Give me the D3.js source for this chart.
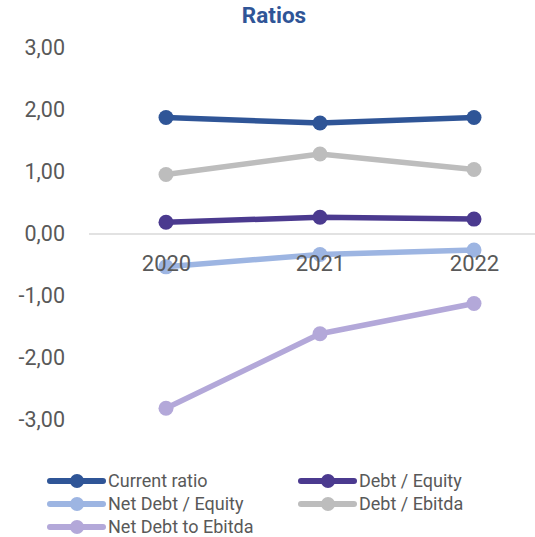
<!DOCTYPE html>
<html lang="it">
<head>
    <meta charset="UTF-8">
    <title>Ratios</title>
    <style>
        body {
            margin: 0;
            background: #fff;
            font-family: Roboto, "Noto Sans", Arial, sans-serif;
        }
        svg { display: block; }
        .axis text { fill: #595959; font-family: Roboto, sans-serif; }
        .legend text { fill: #595959; font-size: 18px; }
    </style>
</head>
<body>
    <div id="chart"></div>

    <script src="https://d3js.org/d3.v7.min.js"></script>
    <script>
        // Dati
        const years = ["2020", "2021", "2022"];
        const seriesNames = ["Current ratio", "Debt / Equity", "Net Debt / Equity", "Debt / Ebitda", "Net Debt to Ebitda"];
        const currentRatio = [1.88, 1.79, 1.88];
        const debtEquity = [0.19, 0.27, 0.24];
        const netDebtEquity = [-0.53, -0.33, -0.26];
        const debtEbitda = [0.96, 1.29, 1.04];
        const netDebtEbitda = [-2.81, -1.61, -1.12];
        const yTicks = [-3, -2, -1, 0, 1, 2, 3];

        const colors = ["#2F5597", "#4B3A8F", "#9DB5E2", "#BDBDBD", "#B3A8D9"];
        const seriesValues = [currentRatio, debtEquity, netDebtEquity, debtEbitda, netDebtEbitda];

        const width = 535;
        const height = 537;

        const svg = d3.select("#chart")
            .append("svg")
            .attr("width", width)
            .attr("height", height);

        // Scale
        const x = d3.scalePoint()
            .domain(years)
            .range([89, 551])
            .padding(0.5);

        const y = d3.scaleLinear()
            .domain([-3, 3])
            .range([420, 48]);

        const locale = d3.formatLocale({decimal: ",", thousands: ".", grouping: [3], currency: ["€", ""], minus: "-"});
        const fmt = locale.format(".2f");

        // Titolo
        svg.append("text")
            .attr("x", 274)
            .attr("y", 23)
            .attr("text-anchor", "middle")
            .style("font-size", "22.5px")
            .style("font-weight", "bold")
            .style("fill", "#2F5597")
            .text("Ratios");

        // Asse Y
        svg.append("g")
            .attr("class", "axis")
            .attr("transform", "translate(89,0)")
            .call(d3.axisLeft(y).tickValues(yTicks).tickFormat(fmt).tickSize(0).tickPadding(24))
            .call(g => g.select(".domain").remove())
            .selectAll("text")
            .style("font-size", "21.5px");

        // Linea dello zero
        svg.append("line")
            .attr("x1", 89)
            .attr("x2", 535)
            .attr("y1", y(0))
            .attr("y2", y(0))
            .attr("stroke", "#D9D9D9")
            .attr("stroke-width", 1.5);

        // Serie
        const line = d3.line()
            .x((d, i) => x(years[i]))
            .y(d => y(d));

        const groups = svg.selectAll(".serie")
            .data(seriesValues)
            .enter()
            .append("g")
            .attr("class", "serie");

        groups.append("path")
            .attr("d", d => line(d))
            .attr("fill", "none")
            .attr("stroke", (d, i) => colors[i])
            .attr("stroke-width", 5.5)
            .attr("stroke-linejoin", "round");

        groups.each(function(vals, si) {
            d3.select(this).selectAll("circle")
                .data(vals)
                .enter()
                .append("circle")
                .attr("cx", (d, i) => x(years[i]))
                .attr("cy", d => y(d))
                .attr("r", 7.5)
                .attr("fill", colors[si]);
        });

        // Asse X (etichette sopra le linee)
        svg.append("g")
            .attr("class", "axis")
            .attr("transform", `translate(0,${y(0)})`)
            .call(d3.axisBottom(x).tickSize(0).tickPadding(21))
            .call(g => g.select(".domain").remove())
            .selectAll("text")
            .style("font-size", "22px");

        // Legenda
        const legendX = [50, 301];
        const legendY = [481, 504, 527];
        const legend = svg.append("g")
            .attr("class", "legend")
            .selectAll("g")
            .data(seriesNames)
            .enter()
            .append("g")
            .attr("transform", (d, i) => `translate(${legendX[i % 2]},${legendY[Math.floor(i / 2)]})`);

        legend.append("line")
            .attr("x1", 0)
            .attr("x2", 53)
            .attr("stroke", (d, i) => colors[i])
            .attr("stroke-width", 6)
            .attr("stroke-linecap", "round");

        legend.append("circle")
            .attr("cx", 27)
            .attr("r", 7)
            .attr("fill", (d, i) => colors[i]);

        legend.append("text")
            .attr("x", 58)
            .attr("dy", "0.35em")
            .text(d => d);
    </script>
</body>
</html>
